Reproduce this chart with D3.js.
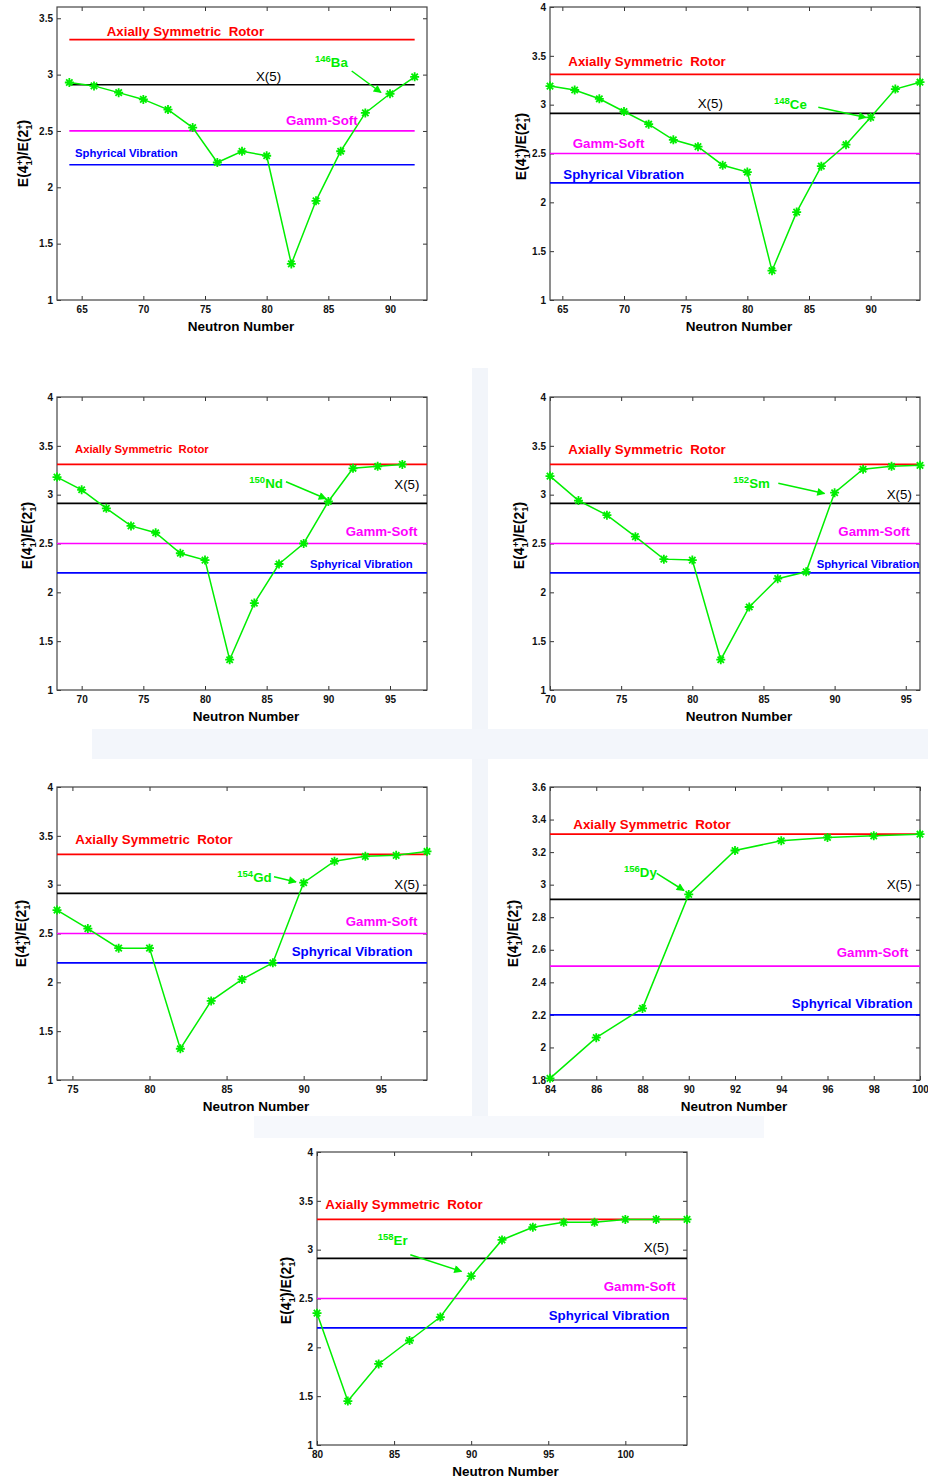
<!DOCTYPE html>
<html>
<head>
<meta charset="utf-8">
<script src="https://cdn.jsdelivr.net/npm/d3@7"></script>
<style>
body { margin: 0; background: #fff; }
svg { display: block; font-family: "Liberation Sans", Arial, sans-serif; }
</style>
</head>
<body>
<div id="chart"></div>
<script>
// Neutron numbers and E(4+)/E(2+) ratios
var nBa = [64, 66, 68, 70, 72, 74, 76, 78, 80, 82, 84, 86, 88, 90, 92];
var rBa = [2.93, 2.90, 2.84, 2.78, 2.69, 2.53, 2.22, 2.32, 2.28, 1.32, 1.88, 2.32, 2.66, 2.83, 2.98];
var nCe = [64, 66, 68, 70, 72, 74, 76, 78, 80, 82, 84, 86, 88, 90, 92, 94];
var rCe = [3.19, 3.15, 3.06, 2.93, 2.80, 2.64, 2.57, 2.38, 2.31, 1.30, 1.90, 2.37, 2.59, 2.87, 3.16, 3.23];
var nNd = [68, 70, 72, 74, 76, 78, 80, 82, 84, 86, 88, 90, 92, 94, 96];
var rNd = [3.18, 3.05, 2.86, 2.68, 2.61, 2.40, 2.33, 1.31, 1.89, 2.29, 2.50, 2.93, 3.27, 3.29, 3.31];
var nSm = [70, 72, 74, 76, 78, 80, 82, 84, 86, 88, 90, 92, 94, 96];
var rSm = [3.19, 2.94, 2.79, 2.57, 2.34, 2.33, 1.31, 1.85, 2.14, 2.21, 3.02, 3.26, 3.29, 3.30];
var nGd = [74, 76, 78, 80, 82, 84, 86, 88, 90, 92, 94, 96, 98];
var rGd = [2.74, 2.55, 2.35, 2.35, 1.32, 1.81, 2.03, 2.20, 3.02, 3.24, 3.29, 3.30, 3.34];
var nDy = [84, 86, 88, 90, 92, 94, 96, 98, 100];
var rDy = [1.81, 2.06, 2.24, 2.94, 3.21, 3.27, 3.29, 3.30, 3.31];
var nEr = [80, 82, 84, 86, 88, 90, 92, 94, 96, 98, 100, 102, 104];
var rEr = [2.35, 1.45, 1.83, 2.07, 2.31, 2.73, 3.10, 3.23, 3.28, 3.28, 3.31, 3.31, 3.31];

// Limits of the models
var refNames = ["Axially Symmetric  Rotor", "X(5)", "Gamm-Soft", "Sphyrical Vibration"];
var refValues = [3.31, 2.91, 2.5, 2.2];
var refColors = ["#ff0000", "#000000", "#ff00ff", "#0000ff"];

// Tick labels
var xTicks65 = [65, 70, 75, 80, 85, 90];
var xTicks70 = [70, 75, 80, 85, 90, 95];
var xTicks75 = [75, 80, 85, 90, 95];
var xTicksDy = [84, 86, 88, 90, 92, 94, 96, 98, 100];
var xTicks80 = [80, 85, 90, 95, 100];
var yTicksBa = [1, 1.5, 2, 2.5, 3, 3.5];
var yTicks4 = [1, 1.5, 2, 2.5, 3, 3.5, 4];
var yTicksDy = [1.8, 2, 2.2, 2.4, 2.6, 2.8, 3, 3.2, 3.4, 3.6];

// Layout of each panel (pixel offsets inside the plot box)
var panels = [
    { n: nBa, r: rBa, mass: "146", sym: "Ba", left: 57, top: 7, xd: [63, 93], yd: [1, 3.6], xt: xTicks65, yt: yTicksBa, span: [64, 92],
      rotor: [49.7, 29, 13.3], x5: [199, 73.7], gam: [229, 118], vib: [18, 149.7, 11.3], iso: [258, 59.7], arrow: [294.7, 64, 324, 85.5],
      ylx: -35.5, yly: 0, xlx: -1 },
    { n: nCe, r: rCe, mass: "148", sym: "Ce", left: 550, top: 7, xd: [64, 94], yd: [1, 4], xt: xTicks65, yt: yTicks4, span: null,
      rotor: [18.3, 58.7, 13.3], x5: [147.7, 100.7], gam: [22.7, 140.7], vib: [13.3, 172.3, 13.3], iso: [224, 102], arrow: [268.3, 100.3, 316, 110.5],
      ylx: -30, yly: -7, xlx: 4 },
    { n: nNd, r: rNd, mass: "150", sym: "Nd", left: 57, top: 397, xd: [68, 98], yd: [1, 4], xt: xTicks70, yt: yTicks4, span: null,
      rotor: [18, 56.3, 11.3], x5: [337.3, 92.3], gam: [288.7, 139], vib: [253, 171.3, 11.3], iso: [192.3, 91.3], arrow: [229, 84.7, 269, 101.8],
      ylx: -31, yly: -8, xlx: 4 },
    { n: nSm, r: rSm, mass: "152", sym: "Sm", left: 550, top: 397, xd: [70, 96], yd: [1, 4], xt: xTicks70, yt: yTicks4, span: null,
      rotor: [18.3, 57, 13.3], x5: [336.7, 102], gam: [288.3, 139], vib: [266.7, 171.3, 11.3], iso: [183.3, 91.3], arrow: [228.3, 86.3, 274.5, 96.5],
      ylx: -32, yly: -8, xlx: 4 },
    { n: nGd, r: rGd, mass: "154", sym: "Gd", left: 57, top: 787, xd: [74, 98], yd: [1, 4], xt: xTicks75, yt: yTicks4, span: null,
      rotor: [18.3, 57, 13.3], x5: [337.3, 102], gam: [288.7, 139], vib: [234.7, 169, 13.3], iso: [180.3, 94.7], arrow: [217, 89.7, 239, 94.9],
      ylx: -37, yly: 0, xlx: 14 },
    { n: nDy, r: rDy, mass: "156", sym: "Dy", left: 550, top: 787, xd: [84, 100], yd: [1.8, 3.6], xt: xTicksDy, yt: yTicksDy, span: null,
      rotor: [23.3, 42, 13.3], x5: [336.7, 102], gam: [286.7, 169.7], vib: [241.7, 221.3, 13.3], iso: [74, 89.7], arrow: [106.7, 86.3, 134, 103.5],
      ylx: -38, yly: 0, xlx: -1 },
    { n: nEr, r: rEr, mass: "158", sym: "Er", left: 317, top: 1152, xd: [80, 104], yd: [1, 4], xt: xTicks80, yt: yTicks4, span: null,
      rotor: [8.3, 57.3, 13.3], x5: [326.7, 100], gam: [286.7, 139.3], vib: [231.7, 168.3, 13.3], iso: [60.7, 93.3], arrow: [93.3, 102.7, 144.5, 119.4],
      ylx: -32, yly: -8, xlx: 3.5 }
];

var W = 370, H = 293;
var green = "#00ee00";

var svg = d3.select("#chart")
    .append("svg")
    .attr("width", 928)
    .attr("height", 1479);

// faint watermark behind the panels
svg.append("rect").attr("x", 472).attr("y", 368).attr("width", 16).attr("height", 762).attr("fill", "#f2f5fa");
svg.append("rect").attr("x", 92).attr("y", 729).attr("width", 836).attr("height", 30).attr("fill", "#f3f6fb");
svg.append("rect").attr("x", 254).attr("y", 1116).attr("width", 510).attr("height", 22).attr("fill", "#f6f8fc");

var defs = svg.append("defs");
defs.append("marker")
    .attr("id", "head")
    .attr("viewBox", "0 0 10 10")
    .attr("refX", 9).attr("refY", 5)
    .attr("markerWidth", 10).attr("markerHeight", 8)
    .attr("markerUnits", "userSpaceOnUse")
    .attr("orient", "auto")
    .append("path")
    .attr("d", "M0,0L10,5L0,10Z")
    .attr("fill", green);

var star = "M-4.5,0H4.5M0,-4.5V4.5M-3.2,-3.2L3.2,3.2M-3.2,3.2L3.2,-3.2";
var fmt = function (d) { return +d.toFixed(1); };

panels.forEach(function (p) {
    var x = d3.scaleLinear().domain(p.xd).range([0, W]);
    var y = d3.scaleLinear().domain(p.yd).range([H, 0]);

    var g = svg.append("g")
        .attr("transform", "translate(" + p.left + "," + p.top + ")");

    g.append("rect").attr("width", W).attr("height", H).attr("fill", "#fff");

    // assi con tacche interne su tutti i lati
    g.append("g").attr("class", "axis").attr("transform", "translate(0," + H + ")")
        .call(d3.axisBottom(x).tickValues(p.xt).tickSizeInner(-4).tickSizeOuter(0).tickPadding(6).tickFormat(fmt));
    g.append("g").attr("class", "axis")
        .call(d3.axisTop(x).tickValues(p.xt).tickSizeInner(-4).tickSizeOuter(0).tickFormat(""));
    g.append("g").attr("class", "axis")
        .call(d3.axisLeft(y).tickValues(p.yt).tickSizeInner(-4).tickSizeOuter(0).tickPadding(4).tickFormat(fmt));
    g.append("g").attr("class", "axis").attr("transform", "translate(" + W + ",0)")
        .call(d3.axisRight(y).tickValues(p.yt).tickSizeInner(-4).tickSizeOuter(0).tickFormat(""));
    g.selectAll(".axis .domain").remove();
    g.selectAll(".axis line").attr("stroke", "#333");
    g.selectAll(".axis text")
        .attr("font-family", "'Liberation Sans', Arial, sans-serif")
        .attr("font-size", 10)
        .attr("font-weight", "bold")
        .attr("fill", "#111");

    g.append("rect").attr("width", W).attr("height", H)
        .attr("fill", "none").attr("stroke", "#444").attr("stroke-width", 1.2);

    // linee di riferimento
    var x1 = p.span ? x(p.span[0]) : 0;
    var x2 = p.span ? x(p.span[1]) : W;
    g.selectAll(".ref")
        .data(refValues)
        .enter().append("line")
        .attr("x1", x1).attr("x2", x2)
        .attr("y1", function (d) { return y(d); })
        .attr("y2", function (d) { return y(d); })
        .attr("stroke", function (d, i) { return refColors[i]; })
        .attr("stroke-width", 1.7);

    // serie
    var pts = p.n.map(function (d, i) { return [d, p.r[i]]; });
    g.append("path")
        .datum(pts)
        .attr("fill", "none")
        .attr("stroke", green)
        .attr("stroke-width", 1.5)
        .attr("d", d3.line().x(function (d) { return x(d[0]); }).y(function (d) { return y(d[1]); }));
    g.selectAll(".pt")
        .data(pts)
        .enter().append("path")
        .attr("d", star)
        .attr("transform", function (d) { return "translate(" + x(d[0]) + "," + y(d[1]) + ")"; })
        .attr("stroke", green)
        .attr("stroke-width", 1.8);

    // etichette dei modelli
    g.append("text").attr("x", p.rotor[0]).attr("y", p.rotor[1])
        .attr("font-size", p.rotor[2]).attr("font-weight", "bold").attr("fill", refColors[0])
        .attr("xml:space", "preserve").text(refNames[0]);
    g.append("text").attr("x", p.x5[0]).attr("y", p.x5[1])
        .attr("font-size", 13.3).attr("fill", refColors[1]).text(refNames[1]);
    g.append("text").attr("x", p.gam[0]).attr("y", p.gam[1])
        .attr("font-size", 13.3).attr("font-weight", "bold").attr("fill", refColors[2]).text(refNames[2]);
    g.append("text").attr("x", p.vib[0]).attr("y", p.vib[1])
        .attr("font-size", p.vib[2]).attr("font-weight", "bold").attr("fill", refColors[3]).text(refNames[3]);

    // nucleo e freccia
    var iso = g.append("text").attr("x", p.iso[0]).attr("y", p.iso[1])
        .attr("fill", green).attr("font-weight", "bold");
    iso.append("tspan").attr("font-size", 9.5).attr("dy", -5).text(p.mass);
    iso.append("tspan").attr("font-size", 13.3).attr("dy", 5).text(p.sym);
    g.append("line")
        .attr("x1", p.arrow[0]).attr("y1", p.arrow[1])
        .attr("x2", p.arrow[2]).attr("y2", p.arrow[3])
        .attr("stroke", green).attr("stroke-width", 1.5)
        .attr("marker-end", "url(#head)");

    // titoli degli assi
    g.append("text")
        .attr("x", W / 2 + p.xlx).attr("y", H + 31)
        .attr("text-anchor", "middle")
        .attr("font-size", 13.5).attr("font-weight", "bold")
        .text("Neutron Number");

    var yl = g.append("text")
        .attr("transform", "translate(" + (p.ylx + 6) + "," + (H / 2 + p.yly) + ") rotate(-90)")
        .attr("text-anchor", "middle")
        .attr("font-size", 14).attr("font-weight", "bold");
    yl.append("tspan").text("E(4");
    yl.append("tspan").attr("font-size", 9.5).attr("dy", -5).text("+");
    yl.append("tspan").attr("font-size", 9.5).attr("dx", -5.6).attr("dy", 9).text("1");
    yl.append("tspan").attr("dy", -4).text(")/E(2");
    yl.append("tspan").attr("font-size", 9.5).attr("dy", -5).text("+");
    yl.append("tspan").attr("font-size", 9.5).attr("dx", -5.6).attr("dy", 9).text("1");
    yl.append("tspan").attr("dy", -4).text(")");
});
</script>
</body>
</html>
